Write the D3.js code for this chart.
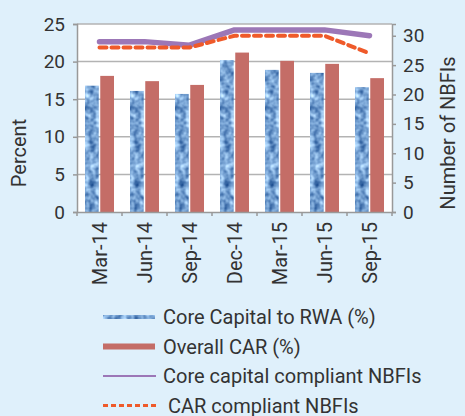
<!DOCTYPE html>
<html>
<head>
<meta charset="utf-8">
<script src="https://cdn.jsdelivr.net/npm/d3@7"></script>
<style>
  html, body { margin: 0; padding: 0; background: #dff0fb; }
  svg { display: block; }
  text { font-family: Roboto, sans-serif; fill: #333; }
</style>
</head>
<body>
<svg id="chart" width="465" height="416"></svg>
<script>
// Quarterly capital adequacy of NBFIs
const categories = ["Mar-14", "Jun-14", "Sep-14", "Dec-14", "Mar-15", "Jun-15", "Sep-15"];
const coreCapitalToRWA = [16.8, 16.1, 15.7, 20.2, 18.9, 18.5, 16.6];
const overallCAR = [18.1, 17.4, 16.9, 21.2, 20.1, 19.7, 17.8];
const coreCompliantNBFIs = [29, 29, 28.4, 31, 31, 31, 30];
const carCompliantNBFIs = [28, 28, 28, 30, 30, 30, 27];
const leftTicks = [0, 5, 10, 15, 20, 25];
const rightTicks = [0, 5, 10, 15, 20, 25, 30];

const FONT = "Roboto, sans-serif";
const svg = d3.select("#chart");
const plot = { left: 77, right: 392, top: 24, bottom: 212 };

const x = d3.scaleBand().domain(categories).range([plot.left, plot.right]);
const xInner = d3.scaleBand().domain(["core", "car"]).range([8, 37]).paddingInner(0.1);
const yLeft = d3.scaleLinear().domain([0, 25]).range([plot.bottom, plot.top]);
const yRight = d3.scaleLinear().domain([0, 32]).range([plot.bottom, plot.top]);

// Mottled blue texture for the core capital bars
const defs = svg.append("defs");
const f = defs.append("filter").attr("id", "mottle")
  .attr("x", "0%").attr("y", "0%").attr("width", "100%").attr("height", "100%")
  .attr("color-interpolation-filters", "sRGB");
f.append("feTurbulence").attr("type", "fractalNoise").attr("baseFrequency", 0.16)
  .attr("numOctaves", 2).attr("seed", 4).attr("result", "noise");
f.append("feColorMatrix").attr("in", "noise").attr("type", "matrix")
  .attr("values", "0.90 0 0 0 0.02  0.84 0 0 0 0.22  0.66 0 0 0 0.50  0 0 0 0 1")
  .attr("result", "tinted");
f.append("feComposite").attr("in", "tinted").attr("in2", "SourceGraphic").attr("operator", "in");

// Plot background
svg.append("rect")
  .attr("x", plot.left).attr("y", plot.top)
  .attr("width", plot.right - plot.left).attr("height", plot.bottom - plot.top)
  .attr("fill", "#fff");

// Gridlines
svg.append("g").selectAll("line").data(leftTicks.filter(d => d > 0)).join("line")
  .attr("x1", plot.left).attr("x2", plot.right)
  .attr("y1", d => yLeft(d)).attr("y2", d => yLeft(d))
  .attr("stroke", "#b3b3b3").attr("stroke-width", 1.5);

// Bars
const groups = svg.append("g").selectAll("g").data(categories).join("g")
  .attr("transform", d => `translate(${x(d)},0)`);
groups.append("rect")
  .attr("x", xInner("core")).attr("width", xInner.bandwidth())
  .attr("y", (d, i) => yLeft(coreCapitalToRWA[i]))
  .attr("height", (d, i) => plot.bottom - yLeft(coreCapitalToRWA[i]))
  .attr("fill", "#6a9fd4").attr("filter", "url(#mottle)");
groups.append("rect")
  .attr("x", xInner("car")).attr("width", xInner.bandwidth())
  .attr("y", (d, i) => yLeft(overallCAR[i]))
  .attr("height", (d, i) => plot.bottom - yLeft(overallCAR[i]))
  .attr("fill", "#c46d67");

// Lines on the secondary axis
const cx = d => x(d) + x.bandwidth() / 2;
const line = vals => d3.line().x((d, i) => cx(categories[i])).y(d => yRight(d))(vals);
svg.append("path").attr("d", line(coreCompliantNBFIs))
  .attr("fill", "none").attr("stroke", "#9c77b7").attr("stroke-width", 5.5)
  .attr("stroke-linecap", "round").attr("stroke-linejoin", "round");
svg.append("path").attr("d", line(carCompliantNBFIs))
  .attr("fill", "none").attr("stroke", "#ef5a2a").attr("stroke-width", 4)
  .attr("stroke-dasharray", "7,5").attr("stroke-linecap", "round");

// Axes
const axisColor = "#999";
const gl = svg.append("g").attr("transform", `translate(${plot.left},0)`)
  .call(d3.axisLeft(yLeft).tickValues(leftTicks).tickSize(4).tickPadding(8));
const gr = svg.append("g").attr("transform", `translate(${plot.right},0)`)
  .call(d3.axisRight(yRight).tickValues(rightTicks).tickSize(4).tickPadding(7));
const gb = svg.append("g").attr("transform", `translate(0,${plot.bottom})`)
  .call(d3.axisBottom(x).tickSize(0).tickPadding(10));
// boundary ticks between categories
svg.append("g").selectAll("line").data(d3.range(categories.length + 1)).join("line")
  .attr("x1", i => plot.left + i * x.step()).attr("x2", i => plot.left + i * x.step())
  .attr("y1", plot.bottom).attr("y2", plot.bottom + 4)
  .attr("stroke", axisColor).attr("stroke-width", 1.5);

[gl, gr, gb].forEach(g => {
  g.select(".domain").attr("stroke", axisColor).attr("stroke-width", 1.5);
  g.selectAll(".tick line").attr("stroke", axisColor).attr("stroke-width", 1.5);
  g.selectAll("text").style("font-family", FONT)
    .attr("font-size", 19).attr("fill", "#333");
});
gb.selectAll(".tick text")
  .attr("font-size", 20)
  .attr("transform", "rotate(-90)")
  .attr("text-anchor", "end").attr("dy", "0.35em")
  .attr("x", -10).attr("y", 0);

// Axis titles
svg.append("text").attr("transform", "translate(26,153) rotate(-90)")
  .attr("text-anchor", "middle").attr("font-size", 20).text("Percent");
svg.append("text").attr("transform", "translate(455,133) rotate(-90)")
  .attr("text-anchor", "middle").attr("font-size", 20).text("Number of NBFIs");

// Legend
const legend = [
  { label: "Core Capital to RWA (%)", type: "tex" },
  { label: "Overall CAR (%)", type: "bar" },
  { label: "Core capital compliant NBFIs", type: "line" },
  { label: " CAR compliant NBFIs", type: "dash" }
];
const lg = svg.append("g").selectAll("g").data(legend).join("g")
  .attr("transform", (d, i) => `translate(103,${317 + i * 29.5})`);
lg.each(function (d) {
  const g = d3.select(this);
  if (d.type === "tex") {
    g.append("rect").attr("x", 0).attr("y", -2).attr("width", 52).attr("height", 4)
      .attr("fill", "#6a9fd4").attr("filter", "url(#mottle)");
  } else if (d.type === "bar") {
    g.append("rect").attr("x", 0).attr("y", -3).attr("width", 52).attr("height", 6)
      .attr("fill", "#c46d67");
  } else if (d.type === "line") {
    g.append("line").attr("x1", 0).attr("x2", 53).attr("stroke", "#9c77b7").attr("stroke-width", 2);
  } else {
    g.append("line").attr("x1", 0).attr("x2", 53).attr("stroke", "#ef5a2a")
      .attr("stroke-width", 3).attr("stroke-dasharray", "5,3");
  }
  g.append("text").attr("x", 60).attr("dy", "0.35em").attr("font-size", 20)
    .style("white-space", "pre").text(d.label);
});
</script>
</body>
</html>
